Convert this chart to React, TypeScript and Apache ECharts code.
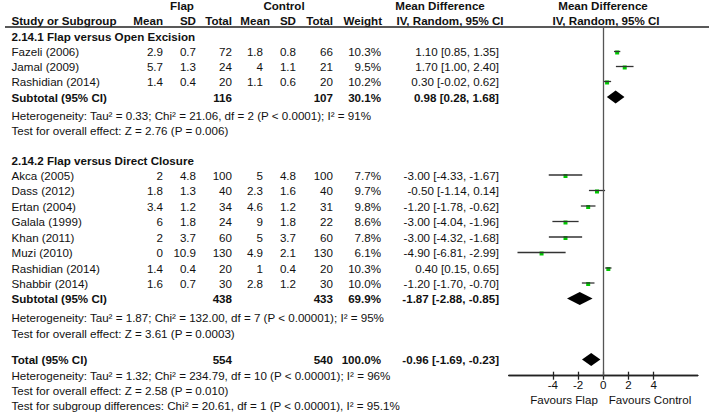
import React, { useEffect, useRef } from "react";
import * as echarts from "echarts";

// ---------- data ----------
const studies1 = ["Fazeli (2006)", "Jamal (2009)", "Rashidian (2014)"];
const flapMean1 = [2.9, 5.7, 1.4];
const flapSD1 = [0.7, 1.3, 0.4];
const flapN1 = [72, 24, 20];
const ctrlMean1 = [1.8, 4, 1.1];
const ctrlSD1 = [0.8, 1.1, 0.6];
const ctrlN1 = [66, 21, 20];
const weight1 = [10.3, 9.5, 10.2];
const md1 = [1.1, 1.7, 0.3];
const lo1 = [0.85, 1.0, -0.02];
const hi1 = [1.35, 2.4, 0.62];
const sub1 = { flapN: 116, ctrlN: 107, weight: 30.1, md: 0.98, lo: 0.28, hi: 1.68 };

const studies2 = ["Akca (2005)", "Dass (2012)", "Ertan (2004)", "Galala (1999)", "Khan (2011)", "Muzi (2010)", "Rashidian (2014)", "Shabbir (2014)"];
const flapMean2 = [2, 1.8, 3.4, 6, 2, 0, 1.4, 1.6];
const flapSD2 = [4.8, 1.3, 1.2, 1.8, 3.7, 10.9, 0.4, 0.7];
const flapN2 = [100, 40, 34, 24, 60, 130, 20, 30];
const ctrlMean2 = [5, 2.3, 4.6, 9, 5, 4.9, 1, 2.8];
const ctrlSD2 = [4.8, 1.6, 1.2, 1.8, 3.7, 2.1, 0.4, 1.2];
const ctrlN2 = [100, 40, 31, 22, 60, 130, 20, 30];
const weight2 = [7.7, 9.7, 9.8, 8.6, 7.8, 6.1, 10.3, 10.0];
const md2 = [-3.0, -0.5, -1.2, -3.0, -3.0, -4.9, 0.4, -1.2];
const lo2 = [-4.33, -1.14, -1.78, -4.04, -4.32, -6.81, 0.15, -1.7];
const hi2 = [-1.67, 0.14, -0.62, -1.96, -1.68, -2.99, 0.65, -0.7];
const sub2 = { flapN: 438, ctrlN: 433, weight: 69.9, md: -1.87, lo: -2.88, hi: -0.85 };
const total = { flapN: 554, ctrlN: 540, weight: 100.0, md: -0.96, lo: -1.69, hi: -0.23 };

const het1 = "Heterogeneity: Tau² = 0.33; Chi² = 21.06, df = 2 (P < 0.0001); I² = 91%";
const test1 = "Test for overall effect: Z = 2.76 (P = 0.006)";
const het2 = "Heterogeneity: Tau² = 1.87; Chi² = 132.00, df = 7 (P < 0.00001); I² = 95%";
const test2 = "Test for overall effect: Z = 3.61 (P = 0.0003)";
const het3 = "Heterogeneity: Tau² = 1.32; Chi² = 234.79, df = 10 (P < 0.00001); I² = 96%";
const test3 = "Test for overall effect: Z = 2.58 (P = 0.010)";
const test4 = "Test for subgroup differences: Chi² = 20.61, df = 1 (P < 0.00001), I² = 95.1%";

const tickValues = [-4, -2, 0, 2, 4];

// ---------- layout (row positions, px from top) ----------
const Y_HEAD1 = 5.5;
const Y_HEAD2 = 20;
const Y_RULE = 27;
const Y_G1 = 36;
const ROWS1 = [51.5, 66.5, 81.5];
const Y_SUB1 = 97;
const Y_HET1 = 115;
const Y_TEST1 = 130;
const Y_G2 = 160;
const ROWS2 = [175, 190.5, 206, 221.5, 237, 252.5, 268, 283];
const Y_SUB2 = 298.5;
const Y_HET2 = 317;
const Y_TEST2 = 333;
const Y_TOT = 359.5;
const Y_HET3 = 375;
const Y_TEST3 = 390;
const Y_TEST4 = 405;
const Y_AXIS = 375.7;

const X_NAME = 11.5;
const X_FM = 163;
const X_FSD = 196;
const X_FN = 232;
const X_CM = 263;
const X_CSD = 296;
const X_CN = 333;
const X_W = 381;
const X_CI = 499;

const FONT = "Liberation Sans";
const FS = 11.6;
const COLOR = "#111";

function fmtCI(md: number, lo: number, hi: number) {
  return `${md.toFixed(2)} [${lo.toFixed(2)}, ${hi.toFixed(2)}]`;
}

function txt(x: number, y: number, text: string, align: string = "left", bold = false) {
  return {
    type: "text",
    x,
    y,
    silent: true,
    style: {
      text,
      x: 0,
      y: 0,
      align,
      verticalAlign: "middle",
      fill: COLOR,
      fontSize: FS,
      fontFamily: FONT,
      fontWeight: bold ? "bold" : "normal",
    },
  };
}

function studyRows(names: string[], fm: number[], fsd: number[], fn: number[], cm: number[], csd: number[], cn: number[], w: number[], md: number[], lo: number[], hi: number[], ys: number[]) {
  const out: any[] = [];
  names.forEach((n, i) => {
    const y = ys[i];
    out.push(txt(X_NAME, y, n));
    out.push(txt(X_FM, y, String(fm[i]), "right"));
    out.push(txt(X_FSD, y, String(fsd[i]), "right"));
    out.push(txt(X_FN, y, String(fn[i]), "right"));
    out.push(txt(X_CM, y, String(cm[i]), "right"));
    out.push(txt(X_CSD, y, String(csd[i]), "right"));
    out.push(txt(X_CN, y, String(cn[i]), "right"));
    out.push(txt(X_W, y, w[i].toFixed(1) + "%", "right"));
    out.push(txt(X_CI, y, fmtCI(md[i], lo[i], hi[i]), "right"));
  });
  return out;
}

function summaryRow(label: string, s: any, y: number) {
  return [
    txt(X_NAME, y, label, "left", true),
    txt(X_FN, y, String(s.flapN), "right", true),
    txt(X_CN, y, String(s.ctrlN), "right", true),
    txt(X_W, y, s.weight.toFixed(1) + "%", "right", true),
    txt(X_CI, y, fmtCI(s.md, s.lo, s.hi), "right", true),
  ];
}

export default function App() {
  const ref = useRef<HTMLDivElement>(null);
  useEffect(() => {
    if (!ref.current) return;
    const chart = echarts.init(ref.current, null, { renderer: "svg" });

    const forestData: any[] = [];
    studies1.forEach((_, i) => forestData.push([md1[i], lo1[i], hi1[i], ROWS1[i], 0]));
    forestData.push([sub1.md, sub1.lo, sub1.hi, Y_SUB1, 1]);
    studies2.forEach((_, i) => forestData.push([md2[i], lo2[i], hi2[i], ROWS2[i], 0]));
    forestData.push([sub2.md, sub2.lo, sub2.hi, Y_SUB2, 1]);
    forestData.push([total.md, total.lo, total.hi, Y_TOT, 1]);

    const graphics: any[] = [
      txt(182, Y_HEAD1, "Flap", "center", true),
      txt(284, Y_HEAD1, "Control", "center", true),
      txt(440, Y_HEAD1, "Mean Difference", "center", true),
      txt(603, Y_HEAD1, "Mean Difference", "center", true),
      txt(X_NAME, Y_HEAD2, "Study or Subgroup", "left", true),
      txt(X_FM, Y_HEAD2, "Mean", "right", true),
      txt(X_FSD, Y_HEAD2, "SD", "right", true),
      txt(X_FN, Y_HEAD2, "Total", "right", true),
      txt(270, Y_HEAD2, "Mean", "right", true),
      txt(X_CSD, Y_HEAD2, "SD", "right", true),
      txt(X_CN, Y_HEAD2, "Total", "right", true),
      txt(382, Y_HEAD2, "Weight", "right", true),
      txt(450, Y_HEAD2, "IV, Random, 95% CI", "center", true),
      txt(606, Y_HEAD2, "IV, Random, 95% CI", "center", true),
      {
        type: "line",
        silent: true,
        shape: { x1: 5, y1: Y_RULE, x2: 709, y2: Y_RULE },
        style: { stroke: "#222", lineWidth: 1.3 },
      },
      txt(X_NAME, Y_G1, "2.14.1 Flap versus Open Excision", "left", true),
      ...studyRows(studies1, flapMean1, flapSD1, flapN1, ctrlMean1, ctrlSD1, ctrlN1, weight1, md1, lo1, hi1, ROWS1),
      ...summaryRow("Subtotal (95% CI)", sub1, Y_SUB1),
      txt(X_NAME, Y_HET1, het1),
      txt(X_NAME, Y_TEST1, test1),
      txt(X_NAME, Y_G2, "2.14.2 Flap versus Direct Closure", "left", true),
      ...studyRows(studies2, flapMean2, flapSD2, flapN2, ctrlMean2, ctrlSD2, ctrlN2, weight2, md2, lo2, hi2, ROWS2),
      ...summaryRow("Subtotal (95% CI)", sub2, Y_SUB2),
      txt(X_NAME, Y_HET2, het2),
      txt(X_NAME, Y_TEST2, test2),
      ...summaryRow("Total (95% CI)", total, Y_TOT),
      txt(X_NAME, Y_HET3, het3),
      txt(X_NAME, Y_TEST3, test3),
      txt(X_NAME, Y_TEST4, test4),
      txt(564, 399.5, "Favours Flap", "center"),
      txt(650, 399.5, "Favours Control", "center"),
    ];

    const gridLeft = 508.8;
    const gridRight = 709 - 697.8;

    chart.setOption({
      animation: false,
      grid: { left: gridLeft, right: gridRight, top: Y_RULE, height: Y_AXIS - Y_RULE, containLabel: false },
      xAxis: [
        {
          type: "value",
          min: -7.5,
          max: 7.5,
          position: "bottom",
          axisLine: { show: true, lineStyle: { color: "#222", width: 1.3 } },
          axisTick: { show: true, inside: true, length: 4, customValues: tickValues, lineStyle: { color: "#222", width: 1.3 } },
          axisLabel: { show: false },
          splitLine: { show: false },
        },
        {
          type: "value",
          min: -7.5,
          max: 7.5,
          position: "bottom",
          axisLine: { show: true, lineStyle: { color: "#222", width: 1.3 } },
          axisTick: { show: true, inside: false, length: 4, customValues: tickValues, lineStyle: { color: "#222", width: 1.3 } },
          axisLabel: { show: true, customValues: tickValues, margin: 3, color: COLOR, fontSize: FS, fontFamily: FONT },
          splitLine: { show: false },
        },
      ],
      yAxis: {
        type: "value",
        inverse: true,
        min: Y_RULE,
        max: Y_AXIS,
        show: false,
      },
      series: [
        {
          type: "custom",
          xAxisIndex: 0,
          encode: { x: [0, 1, 2], y: 3 },
          data: forestData,
          silent: true,
          clip: false,
          renderItem: (params: any, api: any) => {
            const md = api.value(0);
            const lo = api.value(1);
            const hi = api.value(2);
            const y = api.value(3);
            const kind = api.value(4);
            const pm = api.coord([md, y]);
            const pl = api.coord([lo, y]);
            const ph = api.coord([hi, y]);
            if (kind === 1) {
              return {
                type: "polygon",
                shape: { points: [[pl[0], pm[1]], [pm[0], pm[1] - 6.5], [ph[0], pm[1]], [pm[0], pm[1] + 6.5]] },
                style: { fill: "#000" },
              };
            }
            return {
              type: "group",
              children: [
                {
                  type: "rect",
                  shape: { x: pm[0] - 2, y: pm[1] - 1, width: 4, height: 4 },
                  style: { fill: "#00c800" },
                },
                {
                  type: "line",
                  shape: { x1: pl[0], y1: pl[1], x2: ph[0], y2: ph[1] },
                  style: { stroke: "#333", lineWidth: 1.3 },
                },
              ],
            };
          },
          markLine: {
            silent: true,
            symbol: ["none", "none"],
            label: { show: false },
            lineStyle: { color: "#555", width: 1.3, type: "solid" },
            data: [{ xAxis: 0 }],
          },
        },
      ],
      graphic: graphics,
    });

    return () => chart.dispose();
  }, []);

  return <div ref={ref} style={{ position: "fixed", left: 0, top: 0, width: 709, height: 415, background: "#fff" }} />;
}
